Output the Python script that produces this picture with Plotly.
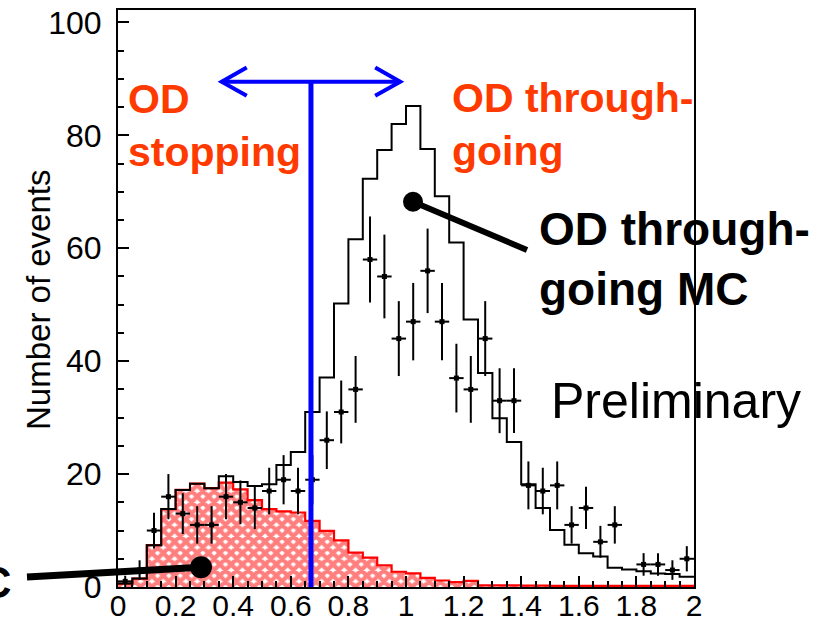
import plotly.graph_objects as go
import math

# ---------------- data ----------------
bin_width = 0.05
x_min, x_max = 0.0, 2.0
n_bins = 40

# observed events per bin (0 -> empty bin, not drawn)
data_counts = [1, 3, 10, 16, 13, 11, 11, 16, 15, 14,
               17, 19, 17, 19, 26, 31, 35, 58, 55, 44,
               47, 56, 47, 37, 35, 44, 33, 33, 18, 17,
               18, 11, 14, 8, 11, 0, 4, 4, 3, 5]

# total MC (stopping + through-going), black histogram
mc_total = [0.6, 1.5, 7.4, 13.8, 17.2, 18.3, 17.5, 19.6, 18.6, 17.9,
            18.2, 21.6, 23.9, 31.0, 37.1, 50.2, 61.6, 72.3, 77.4, 82.0,
            85.2, 77.6, 69.2, 61.0, 47.4, 37.9, 29.9, 25.7, 18.2, 14.0,
            10.1, 7.5, 6.0, 5.4, 3.4, 3.1, 2.8, 2.4, 2.3, 1.8]

# OD stopping MC, red hatched histogram
mc_stop = [0.6, 1.5, 7.4, 13.8, 17.2, 18.3, 17.5, 18.5, 17.3, 15.4,
           13.8, 13.4, 13.2, 11.7, 9.95, 8.25, 6.1, 5.2, 3.85, 2.7,
           2.4, 1.6, 1.15, 0.85, 1.1, 0.3, 0.3, 0.3, 0.25, 0.25,
           0.2, 0.2, 0.2, 0.2, 0.2, 0.2, 0.2, 0.2, 0.2, 0.2]

cut_value = 0.67
arrow_level = 89.5
arrow_left, arrow_right = 0.36, 0.98

x_tick_step, y_tick_step = 0.2, 20
y_max = 102.2

# ---------------- derived ----------------
edges = [round(x_min + i * bin_width, 4) for i in range(n_bins + 1)]
centers = [round(x_min + (i + 0.5) * bin_width, 4) for i in range(n_bins)]

pts_x = [c for c, n in zip(centers, data_counts) if n > 0]
pts_y = [n for n in data_counts if n > 0]
pts_err = [math.sqrt(n) for n in pts_y]

# layout pixel geometry
W, H = 836, 622
ML, MR, MT, MB = 118, 142, 10, 35
PW, PH = W - ML - MR, H - MT - MB


def pxx(p):
    return (p - ML) / PW


def pxy(p):
    return (H - MB - p) / PH


FONT = "Liberation Sans"
RED_TXT = "#ff3a00"

fig = go.Figure()

# red hatched stopping MC
fig.add_trace(go.Bar(
    x=centers, y=mc_stop, width=bin_width,
    marker=dict(color="white",
                line=dict(width=0),
                pattern=dict(shape="x", fgcolor="#ff0000", bgcolor="white",
                             size=8, solidity=0.78)),
    showlegend=False, hoverinfo="skip"))
fig.add_trace(go.Scatter(
    x=edges, y=mc_stop + [mc_stop[-1]], mode="lines",
    line=dict(shape="hv", color="#ff0000", width=2.2),
    showlegend=False, hoverinfo="skip"))

# black total MC
fig.add_trace(go.Scatter(
    x=edges, y=mc_total + [mc_total[-1]], mode="lines",
    line=dict(shape="hv", color="black", width=2),
    showlegend=False, hoverinfo="skip"))

# data points
fig.add_trace(go.Scatter(
    x=pts_x, y=pts_y, mode="markers",
    marker=dict(color="black", size=5, symbol="square"),
    error_y=dict(type="data", array=pts_err, color="black", thickness=2, width=0),
    error_x=dict(type="constant", value=bin_width / 2, color="black", thickness=2, width=0),
    showlegend=False))

shapes = []
# blue cut line and double arrow
shapes.append(dict(type="line", xref="x", yref="y", x0=cut_value, x1=cut_value,
                   y0=0, y1=arrow_level, line=dict(color="#0000ff", width=5), layer="above"))
shapes.append(dict(type="line", xref="x", yref="y", x0=arrow_left, x1=arrow_right,
                   y0=arrow_level, y1=arrow_level, line=dict(color="#0000ff", width=4), layer="above"))
ah_dx, ah_dy = 0.087, 2.5
shapes.append(dict(type="path", xref="x", yref="y",
                   path=f"M {arrow_left+ah_dx},{arrow_level+ah_dy} L {arrow_left},{arrow_level} L {arrow_left+ah_dx},{arrow_level-ah_dy}",
                   line=dict(color="#0000ff", width=4), layer="above"))
shapes.append(dict(type="path", xref="x", yref="y",
                   path=f"M {arrow_right-ah_dx},{arrow_level+ah_dy} L {arrow_right},{arrow_level} L {arrow_right-ah_dx},{arrow_level-ah_dy}",
                   line=dict(color="#0000ff", width=4), layer="above"))

# callout 1 (through-going MC)
shapes.append(dict(type="line", xref="paper", yref="paper",
                   x0=pxx(413), y0=pxy(201.7), x1=pxx(527), y1=pxy(250),
                   line=dict(color="black", width=6), layer="above"))
r1 = 10
shapes.append(dict(type="circle", xref="paper", yref="paper",
                   x0=pxx(413 - r1), x1=pxx(413 + r1), y0=pxy(201.7 + r1), y1=pxy(201.7 - r1),
                   fillcolor="black", line=dict(color="black", width=0), layer="above"))
# callout 2 (stopping MC)
shapes.append(dict(type="line", xref="paper", yref="paper",
                   x0=pxx(27), y0=pxy(577), x1=pxx(201), y1=pxy(567.3),
                   line=dict(color="black", width=7), layer="above"))
r2 = 11
shapes.append(dict(type="circle", xref="paper", yref="paper",
                   x0=pxx(201 - r2), x1=pxx(201 + r2), y0=pxy(567.3 + r2), y1=pxy(567.3 - r2),
                   fillcolor="black", line=dict(color="black", width=0), layer="above"))

ann_common = dict(xref="paper", yref="paper", showarrow=False)
annotations = [
    dict(text="<b>OD<br>stopping</b>", x=pxx(126), y=pxy(74), xanchor="left", yanchor="top",
         align="left", font=dict(family=FONT, size=41, color=RED_TXT), **ann_common),
    dict(text="<b>OD through-<br>going</b>", x=pxx(450), y=pxy(73), xanchor="left", yanchor="top",
         align="left", font=dict(family=FONT, size=41, color=RED_TXT), **ann_common),
    dict(text="<b>OD through-<br>going MC</b>", x=pxx(537), y=pxy(201), xanchor="left", yanchor="top",
         align="left", font=dict(family=FONT, size=46, color="black"), **ann_common),
    dict(text="Preliminary", x=pxx(549), y=pxy(371), xanchor="left", yanchor="top",
         align="left", font=dict(family=FONT, size=50, color="black"), **ann_common),
    dict(text="<b>MC</b>", x=pxx(13), y=pxy(582), xanchor="right", yanchor="middle",
         font=dict(family=FONT, size=44, color="black"), **ann_common),
    dict(text="Number of events", x=pxx(38), y=pxy(300), xanchor="center", yanchor="middle",
         textangle=-90, font=dict(family=FONT, size=33, color="black"), **ann_common),
]

fig.update_layout(
    width=W, height=H,
    margin=dict(l=ML, r=MR, t=MT, b=MB, autoexpand=False),
    paper_bgcolor="white", plot_bgcolor="white",
    bargap=0, barmode="overlay",
    shapes=shapes, annotations=annotations,
    font=dict(family=FONT, color="black"),
    xaxis=dict(range=[x_min, x_max], tick0=0, dtick=x_tick_step,
               ticks="inside", ticklen=11, tickwidth=1.5, tickcolor="black",
               minor=dict(dtick=bin_width, ticks="inside", ticklen=6, tickwidth=1.5, tickcolor="black"),
               showline=True, linecolor="black", linewidth=2, mirror=True,
               showgrid=False, zeroline=False, ticklabelstandoff=-9, automargin=False,
               tickfont=dict(family=FONT, size=30, color="black")),
    yaxis=dict(range=[0, y_max], tick0=0, dtick=y_tick_step,
               ticks="inside", ticklen=11, tickwidth=1.5, tickcolor="black",
               minor=dict(dtick=5, ticks="inside", ticklen=6, tickwidth=1.5, tickcolor="black"),
               showline=True, linecolor="black", linewidth=2, mirror=True,
               showgrid=False, zeroline=False, ticklabelstandoff=8, automargin=False,
               tickfont=dict(family=FONT, size=32, color="black")),
)

fig.write_html("out.html")
